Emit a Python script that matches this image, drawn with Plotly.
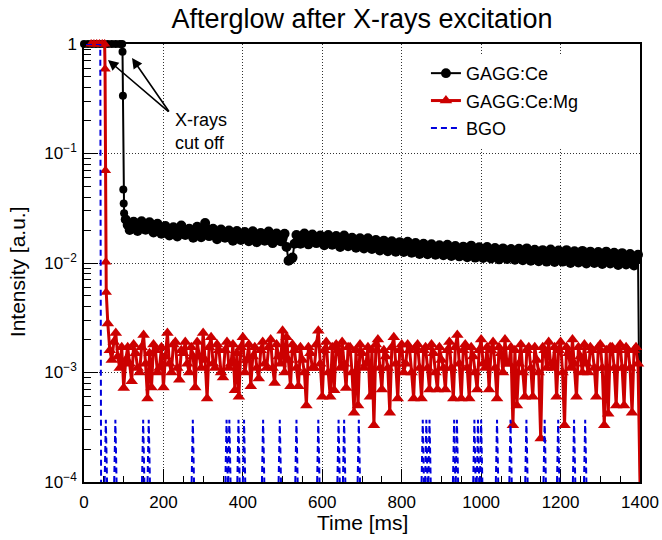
import plotly.graph_objects as go

# ---------------- data ----------------
# GAGG:Ce  (black circles)
gagg_ce_head_t = [0, 10, 20, 30, 40, 50, 60, 70, 80, 90, 96, 97, 98, 99, 100, 101]
gagg_ce_head_v = [1, 1, 1, 1, 1, 1, 1, 1, 1, 1, 1, 0.85, 0.337, 0.047, 0.035, 0.0285]
gagg_ce_band_a_t = list(range(105, 1400, 10))   # samples at 105, 115, ... 1395 ms
gagg_ce_band_a_v = [
    0.0250, 0.0200, 0.0238, 0.0196, 0.0240, 0.0201, 0.0236, 0.0190, 0.0228, 0.0185,
    0.0218, 0.0178, 0.0212, 0.0175, 0.0220, 0.0180, 0.0205, 0.0170, 0.0214, 0.0172,
    0.0232, 0.0176, 0.0205, 0.0165, 0.0202, 0.0170, 0.0198, 0.0160, 0.0196, 0.0162,
    0.0192, 0.0158, 0.0195, 0.0155, 0.0188, 0.0160, 0.0194, 0.0152, 0.0186, 0.0158,
    0.0185, 0.0105, 0.0112, 0.0180, 0.0150, 0.0186, 0.0148, 0.0182, 0.0152, 0.0178,
    0.0145, 0.0180, 0.0147, 0.0176, 0.0140, 0.0178, 0.0142, 0.0170, 0.0138, 0.0168,
    0.0136, 0.0168, 0.0134, 0.0162, 0.0130, 0.0160, 0.0128, 0.0158, 0.0127, 0.0155,
    0.0126, 0.0156, 0.0124, 0.0152, 0.0121, 0.0150, 0.0120, 0.0148, 0.0119, 0.0145,
    0.0118, 0.0147, 0.0116, 0.0143, 0.0115, 0.0141, 0.0113, 0.0144, 0.0112, 0.0139,
    0.0111, 0.0140, 0.0110, 0.0137, 0.0108, 0.0136, 0.0109, 0.0134, 0.0107, 0.0135,
    0.0106, 0.0136, 0.0105, 0.0132, 0.0104, 0.0131, 0.0103, 0.0133, 0.0102, 0.0130,
    0.0103, 0.0131, 0.0100, 0.0128, 0.0101, 0.0129, 0.0099, 0.0127, 0.0100, 0.0126,
    0.0098, 0.0127, 0.0099, 0.0124, 0.0096, 0.0123, 0.0097, 0.0121, 0.0095, 0.0119,
]
gagg_ce_band_b_t = list(range(110, 1400, 10))   # samples at 110, 120, ... 1390 ms
gagg_ce_band_b_v = [
    0.0222, 0.0216, 0.0214, 0.0218, 0.0212, 0.0215, 0.0210, 0.0207, 0.0205, 0.0200,
    0.0196, 0.0195, 0.0192, 0.0197, 0.0199, 0.0190, 0.0187, 0.0191, 0.0193, 0.0200,
    0.0204, 0.0188, 0.0184, 0.0183, 0.0186, 0.0182, 0.0178, 0.0180, 0.0177, 0.0175,
    0.0174, 0.0176, 0.0172, 0.0171, 0.0173, 0.0176, 0.0170, 0.0168, 0.0171, 0.0168,
    0.0140, 0.0108, 0.0150, 0.0165, 0.0168, 0.0166, 0.0164, 0.0167, 0.0164, 0.0160,
    0.0162, 0.0163, 0.0161, 0.0158, 0.0159, 0.0160, 0.0156, 0.0154, 0.0153, 0.0150,
    0.0151, 0.0150, 0.0148, 0.0146, 0.0145, 0.0144, 0.0143, 0.0142, 0.0141, 0.0140,
    0.0140, 0.0138, 0.0137, 0.0136, 0.0135, 0.0134, 0.0134, 0.0133, 0.0132, 0.0130,
    0.0131, 0.0130, 0.0129, 0.0128, 0.0128, 0.0127, 0.0128, 0.0127, 0.0126, 0.0125,
    0.0125, 0.0124, 0.0123, 0.0122, 0.0122, 0.0121, 0.0121, 0.0120, 0.0121, 0.0120,
    0.0120, 0.0119, 0.0118, 0.0117, 0.0117, 0.0116, 0.0118, 0.0116, 0.0115, 0.0115,
    0.0116, 0.0114, 0.0114, 0.0115, 0.0114, 0.0113, 0.0113, 0.0112, 0.0112, 0.0111,
    0.0111, 0.0110, 0.0110, 0.0109, 0.0109, 0.0108, 0.0108, 0.0107, 0.0106,
]
gagg_ce_end_t = [1400]
gagg_ce_end_v = [0]

# GAGG:Ce:Mg  (red triangles)
gagg_mg_head_t = [18, 25, 32, 39, 46, 52, 53, 54, 55, 56]
gagg_mg_head_v = [1, 1, 1, 1, 1, 1, 0.59, 0.07, 0.0102, 0.0054]
gagg_mg_band_a_t = list(range(60, 1400, 10))   # samples at 60, 70, ... 1390 ms
gagg_mg_band_a_v = [
    0.0028, 0.0013, 0.0023, 0.0011, 0.00072, 0.0017, 0.00083, 0.0015, 0.0010, 0.0022,
    0.00058, 0.00073, 0.0016, 0.0011, 0.00073, 0.0023, 0.0010, 0.0019, 0.00086, 0.0015,
    0.0012, 0.0017, 0.00073, 0.0014, 0.0023, 0.00058, 0.0021, 0.0011, 0.0016, 0.0009,
    0.0019, 0.0012, 0.00069, 0.0006, 0.0021, 0.0013, 0.00075, 0.0017, 0.00088, 0.0019,
    0.0011, 0.0020, 0.0008, 0.0014, 0.0024, 0.0021, 0.00075, 0.0016, 0.00075, 0.0013,
    0.0005, 0.0015, 0.0011, 0.0024, 0.0006, 0.0019, 0.0006, 0.00069, 0.0016, 0.0019,
    0.00072, 0.0017, 0.00043, 0.0005, 0.0015, 0.0012, 0.0006, 0.00033, 0.0020, 0.0007,
    0.0014, 0.00043, 0.0021, 0.00058, 0.0018, 0.0012, 0.0016, 0.00058, 0.0018, 0.00058,
    0.0017, 0.0007, 0.0015, 0.0007, 0.0013, 0.0007, 0.0019, 0.00058, 0.0022, 0.00058,
    0.0018, 0.00058, 0.0014, 0.0007, 0.0020, 0.0011, 0.0007, 0.0019, 0.00058, 0.0015,
    0.0020, 0.0012, 0.00033, 0.0005, 0.0018, 0.0006, 0.0017, 0.0006, 0.0013, 0.00025,
    0.0016, 0.0019, 0.0011, 0.0006, 0.0019, 0.00033, 0.0015, 0.0020, 0.0006, 0.0014,
    0.0018, 0.0010, 0.0016, 0.0006, 0.0018, 0.00033, 0.00042, 0.0017, 0.0005, 0.0018,
    0.0005, 0.0016, 0.00043, 0.0017,
]
gagg_mg_band_b_t = list(range(65, 1400, 10))   # samples at 65, 75, ... 1395 ms
gagg_mg_band_b_v = [
    0.0016, 0.0019, 0.0014, 0.0017, 0.0013, 0.0012, 0.0018, 0.0011, 0.0017, 0.0012,
    0.0015, 0.0018, 0.0010, 0.0017, 0.0014, 0.0012, 0.0018, 0.0011, 0.0016, 0.0019,
    0.0010, 0.0014, 0.0019, 0.0011, 0.0013, 0.0017, 0.0012, 0.0018, 0.0010, 0.0016,
    0.0011, 0.0018, 0.0015, 0.0017, 0.0010, 0.0018, 0.0014, 0.0011, 0.0016, 0.0012,
    0.0017, 0.0011, 0.0018, 0.0012, 0.0010, 0.0013, 0.0018, 0.0011, 0.0017, 0.0010,
    0.0017, 0.0011, 0.0018, 0.0012, 0.0016, 0.0010, 0.0017, 0.0018, 0.0011, 0.0012,
    0.0017, 0.0010, 0.0016, 0.0018, 0.0011, 0.0017, 0.0016, 0.0018, 0.0011, 0.0016,
    0.0011, 0.0017, 0.0012, 0.0016, 0.0010, 0.0018, 0.0010, 0.0017, 0.0011, 0.0016,
    0.0011, 0.0018, 0.0010, 0.0017, 0.0011, 0.0016, 0.0011, 0.0017, 0.0012, 0.0016,
    0.0011, 0.0017, 0.0010, 0.0016, 0.0012, 0.0017, 0.0016, 0.0011, 0.0017, 0.0010,
    0.0012, 0.0017, 0.0016, 0.0012, 0.0010, 0.0016, 0.0011, 0.0017, 0.0010, 0.0017,
    0.0011, 0.0012, 0.0017, 0.0016, 0.0010, 0.0017, 0.0011, 0.0012, 0.0017, 0.0010,
    0.0012, 0.0017, 0.0011, 0.0017, 0.0011, 0.0016, 0.0017, 0.0011, 0.0016, 0.0011,
    0.0017, 0.0011, 0.0016, 0.0012,
]
gagg_mg_end_t = [1400]
gagg_mg_end_v = [0]

# BGO  (blue dashed)
bgo_head_t = [5, 41, 43]
bgo_head_v = [1, 1, 0]
bgo_spike_t = [55, 79, 149, 163, 274, 359, 366, 389, 403, 451, 493, 535, 590, 641, 655,
               692, 853, 862, 870, 932, 939, 983, 992, 1000, 1040, 1074, 1114, 1160,
               1194, 1234, 1262]
bgo_spike_v = [3.7e-4] * len(bgo_spike_t)

# axis tick labels
y_tick_vals = [1e-4, 1e-3, 1e-2, 1e-1, 1]
y_tick_text = ["10<sup>−4</sup>", "10<sup>−3</sup>", "10<sup>−2</sup>", "10<sup>−1</sup>", "1"]

# ---------------- build plotting arrays ----------------
FLOOR = 1e-4  # zero counts drawn at the bottom of the log axis
FONT = "Liberation Sans, Arial, Helvetica, sans-serif"
RED = "#cc0000"
BLUE = "#0000dd"


def series(parts):
    """parts: list of (times, values, marker size); returns time-sorted plotting arrays."""
    pts = []
    for tp, vp, ms in parts:
        for tt, vv in zip(tp, vp):
            pts.append((tt, vv, ms))
    pts.sort(key=lambda p: p[0])
    t = [p[0] for p in pts]
    y = [p[1] if p[1] > 0 else FLOOR for p in pts]
    s = [p[2] if p[1] > 0 else 0 for p in pts]
    return t, y, s


ce_t, ce_y, ce_s = series([(gagg_ce_head_t, gagg_ce_head_v, 8),
                           (gagg_ce_band_a_t, gagg_ce_band_a_v, 10),
                           (gagg_ce_band_b_t, gagg_ce_band_b_v, 10),
                           (gagg_ce_end_t, gagg_ce_end_v, 0)])
mg_t, mg_y, mg_s = series([(gagg_mg_head_t, gagg_mg_head_v, 10),
                           (gagg_mg_band_a_t, gagg_mg_band_a_v, 11),
                           (gagg_mg_band_b_t, gagg_mg_band_b_v, 11),
                           (gagg_mg_end_t, gagg_mg_end_v, 0)])

bgo_t, bgo_y = [], []
for tt, vv in zip(bgo_head_t, bgo_head_v):
    bgo_t.append(tt)
    bgo_y.append(vv if vv > 0 else FLOOR)
bgo_t.append(None)
bgo_y.append(None)
for s, vv in zip(bgo_spike_t, bgo_spike_v):
    bgo_t += [s - 3, s, s + 3, None]
    bgo_y += [FLOOR, vv, FLOOR, None]

fig = go.Figure()
fig.add_trace(go.Scatter(
    x=ce_t, y=ce_y, mode="lines+markers", name="GAGG:Ce",
    line=dict(color="black", width=2),
    marker=dict(symbol="circle", size=ce_s, color="black", opacity=1, line=dict(width=0)),
    cliponaxis=False, legendgroup="a",
))
fig.add_trace(go.Scatter(
    x=mg_t, y=mg_y, mode="lines+markers", name="GAGG:Ce:Mg",
    line=dict(color=RED, width=3),
    marker=dict(symbol="triangle-up", size=mg_s, color=RED, opacity=1, line=dict(width=0)),
    cliponaxis=False, legendgroup="b",
))
fig.add_trace(go.Scatter(
    x=bgo_t, y=bgo_y, mode="lines", name="BGO",
    line=dict(color=BLUE, width=2, dash="6px,4px"),
    connectgaps=False, legendgroup="c",
))

axis_common = dict(
    showline=True, linecolor="black", linewidth=1.5, mirror=True,
    ticks="inside", tickcolor="black", tickwidth=1,
    showgrid=True, gridcolor="#333333", gridwidth=1, griddash="1px,2px",
    zeroline=False, layer="below traces",
    tickfont=dict(family=FONT, size=17, color="black"),
)

fig.update_xaxes(
    range=[0, 1400], dtick=200, tick0=0, ticklen=13,
    minor=dict(dtick=50, ticks="inside", ticklen=6, tickcolor="black", showgrid=False),
    ticklabelstandoff=4,
    **axis_common,
)
minor_y = [k * 10 ** e for e in range(-4, 0) for k in range(2, 10)]
fig.update_yaxes(
    type="log", range=[-4, 0], tickmode="array", tickvals=y_tick_vals, ticktext=y_tick_text,
    ticklen=14,
    minor=dict(tickmode="array", tickvals=minor_y, ticks="inside", ticklen=7,
               tickcolor="black", showgrid=False),
    ticklabelstandoff=2,
    **axis_common,
)

fig.update_layout(
    width=662, height=540,
    margin=dict(l=84, r=22, t=44, b=58, autoexpand=False),
    paper_bgcolor="white", plot_bgcolor="white",
    font=dict(family=FONT, color="black"),
    title=dict(text="Afterglow after X-rays excitation", x=0.5, xref="paper",
               y=1 - 19 / 540, yref="container", yanchor="middle", xanchor="center",
               font=dict(family=FONT, size=27, color="black")),
    showlegend=True,
    legend=dict(x=0.615, y=0.975, xanchor="left", yanchor="top",
                bgcolor="white", borderwidth=0, traceorder="grouped", tracegroupgap=1,
                font=dict(family=FONT, size=18, color="black")),
)

fig.add_annotation(text="Time [ms]", xref="paper", yref="paper", x=0.5, y=-0.0936,
                   showarrow=False, xanchor="center", yanchor="middle",
                   font=dict(family=FONT, size=21, color="black"))
fig.add_annotation(text="Intensity [a.u.]", xref="paper", yref="paper", x=-0.1205, y=0.479,
                   showarrow=False, xanchor="center", yanchor="middle", textangle=-90,
                   font=dict(family=FONT, size=21, color="black"))
fig.add_annotation(text="X-rays<br>cut off", xref="paper", yref="paper",
                   x=(173 - 84) / 556, y=(482 - 131) / 438, showarrow=False,
                   xanchor="left", yanchor="middle", align="left",
                   font=dict(family=FONT, size=18, color="black"))
# arrows (head positions in paper fraction, tail offset in pixels)
for hx, hy, ax, ay in [(108, 60, 62, 53), (132, 58, 38, 55)]:
    fig.add_annotation(text="", xref="paper", yref="paper",
                       x=(hx - 84) / 556, y=(482 - hy) / 438,
                       ax=ax, ay=ay, axref="pixel", ayref="pixel",
                       showarrow=True, arrowhead=2, arrowsize=1.3, arrowwidth=1.6,
                       arrowcolor="black")

fig.write_html("out.html")
